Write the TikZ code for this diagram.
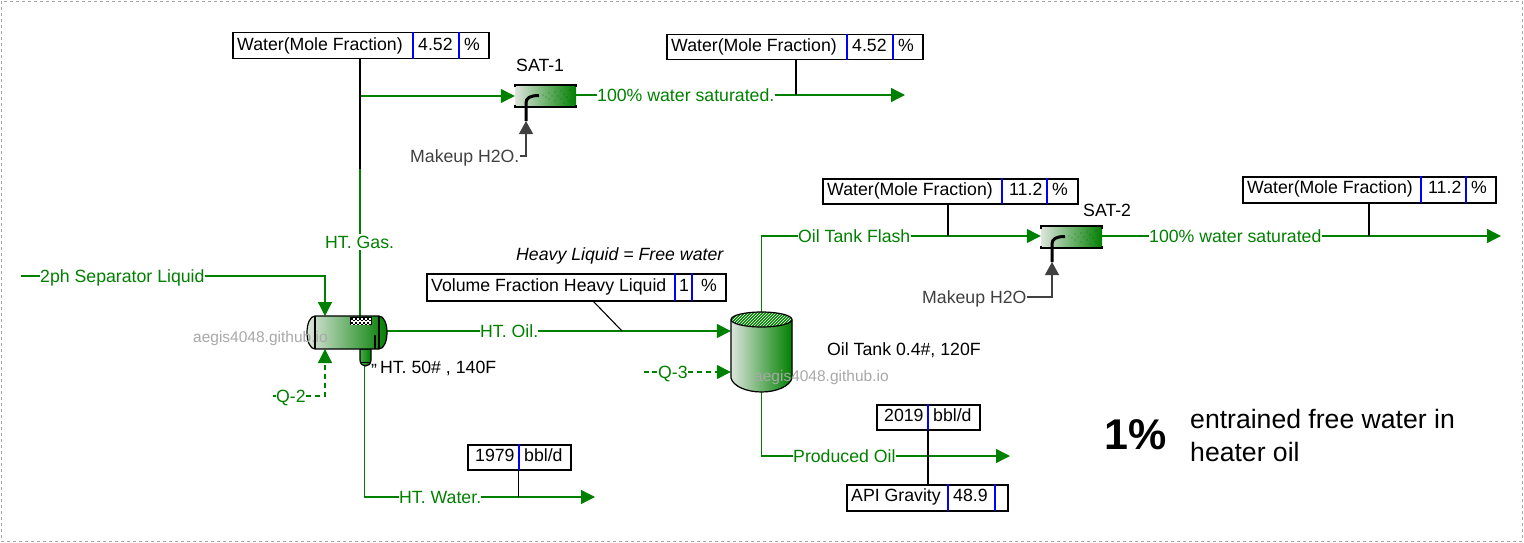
\documentclass[tikz,border=0pt]{standalone}
\usepackage{fontspec}
\setmainfont{Liberation Sans}
\usetikzlibrary{arrows.meta,patterns}
\definecolor{streamgreen}{HTML}{008000}
\definecolor{lightgreen}{HTML}{DDE5DD}
\definecolor{makeupgray}{HTML}{404040}
\definecolor{markgray}{HTML}{A8A8A8}
\tikzset{
    txt/.style={inner sep=0pt,anchor=west,text height=14pt,text depth=1pt,font=\fontsize{17.7}{20}\selectfont},
    streamlabel/.style={txt,text=streamgreen},
    stream/.style={color=streamgreen,line width=1.3pt},
    arrowstream/.style={stream,-{Triangle[length=14pt,width=14pt]}},
    energy/.style={arrowstream,dashed,dash pattern=on 5pt off 4pt},
    makeup/.style={color=makeupgray,line width=1.2pt},
    leader/.style={color=black,line width=1.1pt},
    tagbox/.style={draw=black,line width=1.5pt,fill=white,inner sep=0pt,anchor=north west},
    tagsep/.style={color=blue,line width=1.3pt},
    watermark/.style={txt,text=markgray,font=\fontsize{15.5}{18}\selectfont},
}
\newcommand{\tagframe}[5]{\node[tagbox,minimum width={#4-#2-1},minimum height={#5-#3-1}] (#1) at (#2,#3) {};}
\newcommand{\satunit}[3]{
\begin{scope}[shift={(#2,#3)}]
\fill[left color=lightgreen,right color=streamgreen] (515,85) rectangle (576,107);
\draw[line width=1.2pt] (515,87.5) -- (515,85) -- (576,85) -- (576,87.5);
\draw[line width=1.2pt] (515,104.5) -- (515,107) -- (576,107) -- (576,104.5);
\foreach \x/\y in {543/95,546/97,549/93,549/99,552/96,555/92,555/101,558/96,561/91,561/99,564/94,564/103,567/97,570/90,570/101}
    \fill (\x,\y) circle (0.4);
\draw[line width=3pt] (526,121) -- (526,103) .. controls (526,98) and (530,95.5) .. (539,95.5);
\node[minimum width=61,minimum height=22,inner sep=0pt] (#1) at (545.5,96) {};
\coordinate (#1in) at (526,121);
\end{scope}
}
\begin{document}
\begin{tikzpicture}[x=1pt,y=-1pt]
\useasboundingbox (0,0) rectangle (1524,543);
\draw[color=gray!70,dashed,line width=0.8pt] (1,1) rectangle (1522,541);

% stream labels
\node[streamlabel] (feed) at (40,276) {2ph Separator Liquid};
\node[streamlabel] (gas) at (325,242) {HT. Gas.};
\node[streamlabel] (oil) at (480,331) {HT. Oil.};
\node[streamlabel] (water) at (399,497) {HT. Water.};
\node[streamlabel] (qtwo) at (276,396) {Q-2};
\node[streamlabel] (qthree) at (658,372) {Q-3};
\node[streamlabel] (wetgas) at (597,95) {100\% water saturated.};
\node[streamlabel] (flash) at (798,236) {Oil Tank Flash};
\node[streamlabel] (wetflash) at (1149,236) {100\% water saturated};
\node[streamlabel] (product) at (793,456) {Produced Oil};

% free ends and taps
\coordinate (feedstart) at (21,276);
\coordinate (qtwostart) at (273,396);
\coordinate (qthreestart) at (644,372);
\coordinate (wetgasend) at (905,95);
\coordinate (wetflashend) at (1501,236);
\coordinate (productend) at (1010,456);
\coordinate (waterend) at (595,497);
\coordinate (gaselbow) at (360,96);
\coordinate (gasmid) at (360,169);
\coordinate (oiltap) at (622,331);
\coordinate (wetgastap) at (796,95);
\coordinate (flashtap) at (948,236);
\coordinate (wetflashtap) at (1369,236);
\coordinate (watertap) at (518.5,497);

% separator
\node[minimum width=80,minimum height=33,inner sep=0pt] (vessel) at (347,332.5) {};
\coordinate (vesselfeed) at (325,316);
\coordinate (vesselheat) at (325,349);
\coordinate (vesselgas) at (360,317);
\coordinate (vesseloil) at (387,331);
\coordinate (vesselboot) at (364.5,366);
% tank
\node[minimum width=61,minimum height=80,inner sep=0pt] (tank) at (761.5,352) {};

\draw[stream] (feedstart) -- (feed);
\draw[arrowstream] (feed) -| (vesselfeed);
\draw[stream] (vesselgas) -- (gas.south -| vesselgas);
\draw[stream] (gas.north -| vesselgas) -- (gaselbow);
\draw[stream] (vesseloil) -- (oil);
\draw[arrowstream] (oil) -- (oil -| tank.west);
\draw[stream] (vesselboot) |- (water);
\draw[arrowstream] (water) -- (waterend);
\draw[stream,dash pattern=on 3pt off 2pt] (qtwostart) -- (qtwo);
\draw[energy] (qtwo) -| (vesselheat);
\draw[stream,dash pattern=on 5pt off 3pt] (qthreestart) -- (qthree);
\draw[energy] (qthree) -- (qthree -| tank.west);
\draw[stream] (tank.north) |- (flash);
\draw[stream] (tank.south) |- (product);
\draw[arrowstream] (product) -- (productend);

\fill[left color=lightgreen,right color=streamgreen] (731,320) -- (731,378) .. controls (733,386) and (746,392) .. (761.5,392) .. controls (777,392) and (790,386) .. (792,378) -- (792,320) -- cycle;
\draw[line width=1.2pt] (731,320) -- (731,378) .. controls (733,386) and (746,392) .. (761.5,392) .. controls (777,392) and (790,386) .. (792,378) -- (792,320);
\fill[color=streamgreen] (761.5,319.5) ellipse (30.5 and 7.5);
\fill[pattern=north east lines,pattern color=white] (761.5,319.5) ellipse (30.5 and 7.5);
\draw[line width=1.2pt] (761.5,319.5) ellipse (30.5 and 7.5);

\path[left color=streamgreen!70,right color=streamgreen,draw=black,line width=1.2pt] (360,349) -- (360,360) .. controls (360,364) and (363,366) .. (365.5,366) .. controls (368,366) and (371,364) .. (371,360) -- (371,349) -- cycle;
\draw[line width=1pt] (360.5,362) -- (370.5,362);
\path[left color=lightgreen,right color=streamgreen,draw=black,line width=1.2pt] (315,316) -- (379,316) .. controls (384,316) and (387,324) .. (387,332.5) .. controls (387,341) and (384,349) .. (379,349) -- (315,349) .. controls (310,349) and (307,341) .. (307,332.5) .. controls (307,324) and (310,316) .. (315,316) -- cycle;
\draw[line width=1.2pt] (315,316) -- (315,349);
\draw[line width=1.2pt] (379,316) -- (379,349);
\draw[line width=1.2pt] (375,335) -- (375,349);
\fill[color=white] (350,317) rectangle (371,325);
\foreach \x in {351,355,...,367} \foreach \y in {318,322} {
    \fill (\x,\y) rectangle +(2,2);
    \fill (\x+2,\y+2) rectangle +(2,1);
}
\draw[line width=0.8pt] (350,325) -- (350,317) -- (371,317) -- (371,325);

% saturators
\satunit{satone}{0}{0}
\satunit{sattwo}{526}{141}
\draw[arrowstream] (gaselbow) -- (gaselbow -| satone.west);
\draw[stream] (satone.east |- wetgas) -- (wetgas);
\draw[arrowstream] (wetgas) -- (wetgasend);
\draw[arrowstream] (flash) -- (flash -| sattwo.west);
\draw[stream] (sattwo.east |- wetflash) -- (wetflash);
\draw[arrowstream] (wetflash) -- (wetflashend);

\node[txt,text=makeupgray] (makeupone) at (410,156) {Makeup H2O.};
\node[txt,text=makeupgray] (makeuptwo) at (922,297) {Makeup H2O};
\draw[makeup,-{Triangle[length=13pt,width=14pt]}] (makeupone) -| (satonein);
\draw[makeup,-{Triangle[length=13pt,width=14pt]}] (makeuptwo) -| (sattwoin);

% tag boxes
\tagframe{tagone}{232}{32}{489}{59}
\foreach \x in {413,459} \draw[tagsep] (\x,32) -- (\x,59);
\node[txt] (tagonea) at (237,44) {Water(Mole Fraction)};
\node[txt] (tagoneb) at (418,44) {4.52};
\node[txt] (tagonec) at (464,44) {\%};
\tagframe{tagtwo}{666}{34}{923}{60}
\foreach \x in {847,893} \draw[tagsep] (\x,34) -- (\x,60);
\node[txt] (tagtwoa) at (671,45) {Water(Mole Fraction)};
\node[txt] (tagtwob) at (852,45) {4.52};
\node[txt] (tagtwoc) at (898,45) {\%};
\tagframe{tagthree}{822}{178}{1078}{204}
\foreach \x in {1002,1047} \draw[tagsep] (\x,178) -- (\x,204);
\node[txt] (tagthreea) at (827,189) {Water(Mole Fraction)};
\node[txt] (tagthreeb) at (1009,189) {11.2};
\node[txt] (tagthreec) at (1052,189) {\%};
\tagframe{tagfour}{1242}{176}{1496}{203}
\foreach \x in {1421,1466} \draw[tagsep] (\x,176) -- (\x,203);
\node[txt] (tagfoura) at (1247,187) {Water(Mole Fraction)};
\node[txt] (tagfourb) at (1428,187) {11.2};
\node[txt] (tagfourc) at (1471,187) {\%};
\tagframe{tagfive}{426}{273}{726}{301}
\foreach \x in {675,692} \draw[tagsep] (\x,273) -- (\x,301);
\node[txt] (tagfivea) at (431,285) {Volume Fraction Heavy Liquid};
\node[txt] (tagfiveb) at (679,285) {1};
\node[txt] (tagfivec) at (701,285) {\%};
\tagframe{tagsix}{467}{444}{571}{470}
\draw[tagsep] (519,444) -- (519,470);
\node[txt] (tagsixa) at (475,455) {1979};
\node[txt] (tagsixb) at (524,455) {bbl/d};
\tagframe{tagseven}{876}{404}{980}{430}
\draw[tagsep] (928,404) -- (928,430);
\node[txt] (tagsevena) at (884,415) {2019};
\node[txt] (tagsevenb) at (933,415) {bbl/d};
\tagframe{tageight}{846}{484}{1008}{511}
\foreach \x in {948,995} \draw[tagsep] (\x,484) -- (\x,511);
\node[txt] (tageighta) at (851,495) {API Gravity};
\node[txt] (tageightb) at (953,495) {48.9};

% leaders
\draw[leader] (tagone.south -| gasmid) -- (gasmid);
\draw[leader] (tagtwo.south -| wetgastap) -- (wetgastap);
\draw[leader] (tagthree.south -| flashtap) -- (flashtap);
\draw[leader] (tagfour.south -| wetflashtap) -- (wetflashtap);
\draw[leader] (593,301) -- (oiltap);
\draw[leader] (tagsix.south -| watertap) -- (watertap);
\draw[leader] (928,430) -- (928,484);

% other text
\node[txt] (satonename) at (516,65) {SAT-1};
\node[txt] (sattwoname) at (1083,210) {SAT-2};
\node[txt,font=\fontsize{17.7}{20}\selectfont\itshape] (heavy) at (516,254) {Heavy Liquid = Free water};
\node[txt] (sepname) at (371,367) {\raisebox{-3pt}{"}\kern3pt HT. 50\# , 140F};
\node[txt] (tankname) at (827,349) {Oil Tank 0.4\#, 120F};
\node[watermark] (markone) at (193,336) {aegis4048.github.io};
\node[watermark] (marktwo) at (754,375) {aegis4048.github.io};
\node[inner sep=0pt,anchor=west,font=\fontsize{43}{50}\selectfont\bfseries] (pct) at (1104,435) {1\%};
\node[inner sep=0pt,anchor=base west,font=\fontsize{26.6}{30}\selectfont] (notea) at (1190,428) {entrained free water in};
\node[inner sep=0pt,anchor=base west,font=\fontsize{26.6}{30}\selectfont] (noteb) at (1190,461) {heater oil};
\end{tikzpicture}
\end{document}
